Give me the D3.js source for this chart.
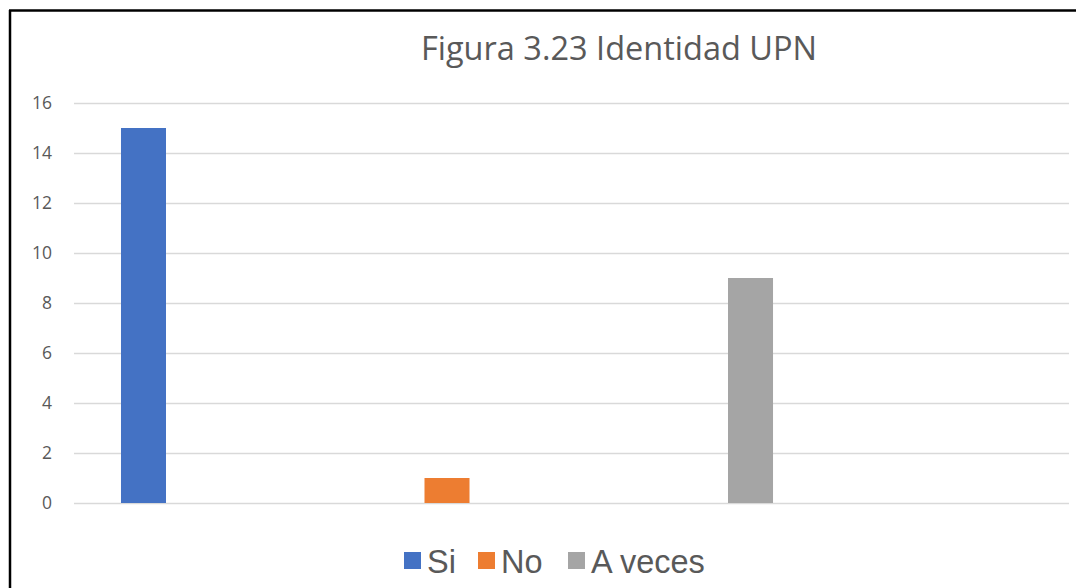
<!DOCTYPE html>
<html><head><meta charset="utf-8">
<script src="https://cdn.jsdelivr.net/npm/d3@7/dist/d3.min.js"></script>
<style>body{margin:0;background:#fff}svg{display:block}</style>
</head><body>
<script>
const categories = ["Si", "No", "A veces"];
const values = [15, 1, 9];
const colors = ["#4472C4", "#ED7D31", "#A5A5A5"];
const yTicks = [0, 2, 4, 6, 8, 10, 12, 14, 16];
const title = "Figura 3.23 Identidad UPN";

const W = 1076, H = 588;
const svg = d3.select("body").append("svg").attr("width", W).attr("height", H);

// frame
svg.append("line").attr("x1", 10).attr("x2", 10).attr("y1", 10).attr("y2", H).attr("stroke", "#000").attr("stroke-width", 2.5);
svg.append("line").attr("x1", 9).attr("x2", W).attr("y1", 10.5).attr("y2", 10.5).attr("stroke", "#000").attr("stroke-width", 2.5);

const pLeft = 74, pRight = 1069, pTop = 103, pBottom = 503;
const y = d3.scaleLinear().domain([0, 16]).range([pBottom, pTop]);
const x = d3.scaleBand().domain(categories).range([pLeft, pRight])
  .paddingInner(0.8517).paddingOuter(0.565).align(0.137);

// gridlines
svg.append("g").selectAll("line").data(yTicks).join("line")
  .attr("x1", pLeft).attr("x2", pRight)
  .attr("y1", d => Math.round(y(d)) + 0.5).attr("y2", d => Math.round(y(d)) + 0.5)
  .attr("stroke", "#d9d9d9").attr("stroke-width", 1.5);

// y axis labels
const yAxis = d3.axisLeft(y).tickValues(yTicks).tickSize(0).tickPadding(0);
const ga = svg.append("g").attr("transform", `translate(${52},0)`).call(yAxis);
ga.select(".domain").remove();
ga.selectAll("text").attr("fill", "#595959").attr("font-size", 17.5)
  .attr("font-family", "'Open Sans', 'Noto Sans', sans-serif");

// bars
svg.append("g").selectAll("rect").data(values).join("rect")
  .attr("x", (d, i) => x(categories[i]))
  .attr("width", x.bandwidth())
  .attr("y", d => y(d))
  .attr("height", d => y(0) - y(d))
  .attr("fill", (d, i) => colors[i]);

// title
svg.append("text").attr("x", 619).attr("y", 60).attr("text-anchor", "middle")
  .attr("font-family", "'Open Sans', 'Noto Sans', sans-serif").attr("font-size", 32.5)
  .attr("fill", "#595959").text(title);

// legend
const legX = [404, 478, 568];
const lg = svg.append("g");
categories.forEach((c, i) => {
  lg.append("rect").attr("x", legX[i]).attr("y", 552).attr("width", 17).attr("height", 17).attr("fill", colors[i]);
  lg.append("text").attr("x", legX[i] + 23).attr("y", 573)
    .attr("font-family", "'Liberation Sans', Arial, sans-serif").attr("font-size", 32.5)
    .attr("fill", "#595959").text(c);
});
</script>
</body></html>
